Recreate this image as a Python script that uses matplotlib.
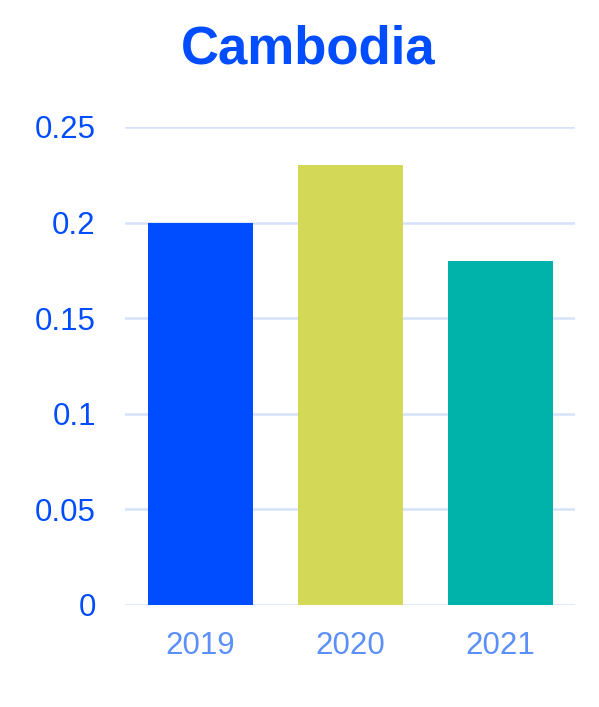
import matplotlib.pyplot as plt
import numpy as np

plt.rcParams['font.family'] = ['Liberation Sans', 'DejaVu Sans']

years = ['2019', '2020', '2021']
values = [0.20, 0.23, 0.18]
barColors = ['#004cff', '#d4d857', '#00b3aa']
yTicks = [0, 0.05, 0.1, 0.15, 0.2, 0.25]
yLabels = ['0', '0.05', '0.1', '0.15', '0.2', '0.25']

fig = plt.figure(figsize=(5.99, 7.07), dpi=100)
ax = fig.add_axes([125/599, 102/707, 450/599, 478/707])

x = np.arange(len(years))
ax.bar(x, values, width=0.7, color=barColors, zorder=3)

ax.set_xlim(-0.5, len(years) - 0.5)
ax.set_ylim(0, 0.25)
ax.set_yticks(yTicks)
ax.set_yticklabels(yLabels)
ax.set_xticks(x)
ax.set_xticklabels(years)

ax.grid(axis='y', color='#d6e2fb', linewidth=1.8, zorder=0)
ax.set_axisbelow(True)
for s in ax.spines.values():
    s.set_visible(False)
ax.tick_params(axis='y', length=0, pad=21, labelsize=22.5, labelcolor='#004cff')
ax.tick_params(axis='x', length=0, pad=18.5, labelsize=22.5, labelcolor='#5b8ff9')

fig.text(308/599, (707-64)/707, 'Cambodia', ha='center', va='baseline',
         fontsize=38, fontweight='bold', color='#004cff')

fig.savefig('out.png', dpi=100)
